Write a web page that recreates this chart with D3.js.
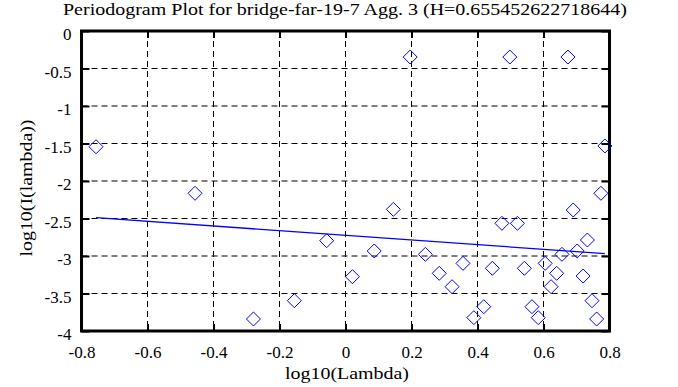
<!DOCTYPE html>
<html>
<head>
<meta charset="utf-8">
<script src="https://cdn.jsdelivr.net/npm/d3@7"></script>
<style>
  body { margin: 0; background: #fff; }
  svg text { font-family: "Liberation Serif", "Times New Roman", serif !important; fill: #000; }
</style>
</head>
<body>
<svg id="chart"></svg>
<script>
// periodogram points
var logLambda = [-0.756, -0.456, -0.279, -0.155, -0.057, 0.021, 0.087, 0.145, 0.196, 0.242,
                 0.284, 0.323, 0.356, 0.389, 0.419, 0.445, 0.474, 0.498, 0.521, 0.542,
                 0.565, 0.584, 0.605, 0.623, 0.640, 0.656, 0.674, 0.690, 0.702, 0.720,
                 0.733, 0.747, 0.761, 0.774, 0.786];
var logI = [-1.543, -2.164, -3.84, -3.596, -2.796, -3.276, -2.933, -2.378, -0.347, -2.978,
            -3.231, -3.409, -3.098, -3.822, -3.676, -3.164, -2.564, -0.347, -2.564, -3.164,
            -3.676, -3.822, -3.098, -3.409, -3.231, -2.978, -0.347, -2.387, -2.933, -3.267,
            -2.787, -3.596, -3.84, -2.164, -1.533];

var hurst = 0.655452622718644;
var fitIntercept = -2.724;
var fitSlope = 1 - 2 * hurst;

var xTicks = [-0.8, -0.6, -0.4, -0.2, 0, 0.2, 0.4, 0.6, 0.8];
var yTicks = [0, -0.5, -1, -1.5, -2, -2.5, -3, -3.5, -4];

var drawGraph = function() {
  var screen = { width: 678, height: 387 };
  var margins = { top: 31, bottom: 56, left: 81.5, right: 68.5 };
  var graphWidth = screen.width - margins.left - margins.right;
  var graphHeight = screen.height - margins.top - margins.bottom;

  var xScale = d3.scaleLinear().domain([-0.8, 0.8]).range([0, graphWidth]);
  var yScale = d3.scaleLinear().domain([-4, 0]).range([graphHeight, 0]);

  var svg = d3.select("#chart")
              .attr("width", screen.width)
              .attr("height", screen.height);

  var plot = svg.append("g")
                .attr("transform", "translate(" + margins.left + "," + margins.top + ")");

  // dashed grid
  plot.selectAll(".vgrid")
      .data(xTicks.slice(1, -1))
      .enter().append("line")
      .attr("x1", function(d) { return xScale(d); })
      .attr("x2", function(d) { return xScale(d); })
      .attr("y1", 0).attr("y2", graphHeight)
      .attr("stroke", "#000").attr("stroke-width", 1)
      .attr("stroke-dasharray", "6,4");

  plot.selectAll(".hgrid")
      .data(yTicks.slice(1, -1))
      .enter().append("line")
      .attr("y1", function(d) { return yScale(d); })
      .attr("y2", function(d) { return yScale(d); })
      .attr("x1", 0).attr("x2", graphWidth)
      .attr("stroke", "#000").attr("stroke-width", 1)
      .attr("stroke-dasharray", "6,4");

  // axes with inward ticks on all sides, plain hyphen minus
  var fmt = function(d) { return String(d); };
  var bottom = plot.append("g")
      .attr("transform", "translate(0," + graphHeight + ")")
      .call(d3.axisBottom(xScale).tickValues(xTicks).tickSizeInner(-7).tickSizeOuter(0).tickPadding(15).tickFormat(fmt));
  var left = plot.append("g")
      .call(d3.axisLeft(yScale).tickValues(yTicks).tickSizeInner(-8).tickSizeOuter(0).tickPadding(10).tickFormat(fmt));
  var top = plot.append("g")
      .call(d3.axisTop(xScale).tickValues(xTicks).tickSizeInner(-7).tickSizeOuter(0).tickFormat(""));
  var right = plot.append("g")
      .attr("transform", "translate(" + graphWidth + ",0)")
      .call(d3.axisRight(yScale).tickValues(yTicks).tickSizeInner(-8).tickSizeOuter(0).tickFormat(""));

  [bottom, left, top, right].forEach(function(a) {
    a.attr("font-family", null).attr("font-size", null);
    a.select(".domain").remove();
    a.selectAll(".tick line").attr("stroke", "#000").attr("stroke-width", 2);
    a.selectAll("text").attr("font-size", 17).attr("fill", "#000");
  });
  left.selectAll("text").attr("dy", "0.52em");

  plot.append("rect")
      .attr("x", 0).attr("y", 0)
      .attr("width", graphWidth).attr("height", graphHeight)
      .attr("fill", "none").attr("stroke", "#000").attr("stroke-width", 3);

  // fitted line
  var xMin = d3.min(logLambda), xMax = d3.max(logLambda);
  plot.append("line")
      .attr("x1", xScale(xMin)).attr("y1", yScale(fitIntercept + fitSlope * xMin))
      .attr("x2", xScale(xMax)).attr("y2", yScale(fitIntercept + fitSlope * xMax))
      .attr("stroke", "#0000ff").attr("stroke-width", 1.3);

  // diamonds
  var r = 7;
  plot.selectAll(".pt")
      .data(logLambda)
      .enter().append("path")
      .attr("d", function(d, i) {
        var x = xScale(d), y = yScale(logI[i]);
        return "M" + x + "," + (y - r) + "L" + (x + r) + "," + y + "L" + x + "," + (y + r) + "L" + (x - r) + "," + y + "Z";
      })
      .attr("fill", "none").attr("stroke", "#0000ff").attr("stroke-width", 1);

  svg.append("text")
     .attr("x", 345).attr("y", 15)
     .attr("text-anchor", "middle").attr("font-size", 17)
     .attr("textLength", 564).attr("lengthAdjust", "spacingAndGlyphs")
     .text("Periodogram Plot for bridge-far-19-7 Agg. 3 (H=" + hurst + ")");

  svg.append("text")
     .attr("x", 347).attr("y", 379)
     .attr("text-anchor", "middle").attr("font-size", 17)
     .attr("textLength", 124).attr("lengthAdjust", "spacingAndGlyphs")
     .text("log10(Lambda)");

  svg.append("text")
     .attr("transform", "translate(32,188) rotate(-90)")
     .attr("text-anchor", "middle").attr("font-size", 17)
     .attr("textLength", 137).attr("lengthAdjust", "spacingAndGlyphs")
     .text("log10(I(lambda))");
};

drawGraph();
</script>
</body>
</html>
